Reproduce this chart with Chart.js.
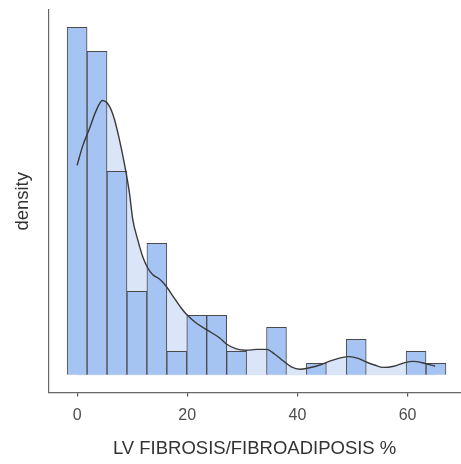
<!DOCTYPE html>
<html>
<head>
<meta charset="utf-8">
<script src="https://cdn.jsdelivr.net/npm/chart.js@4/dist/chart.umd.min.js"></script>
<style>
  html, body { margin: 0; padding: 0; background: #fff; }
  #wrap { width: 461px; height: 464px; }
</style>
</head>
<body>
<div id="wrap"><canvas id="hist"></canvas></div>
<script>
// histogram bins (centres, %), counts per bin
const binWidth = 3.62;
const binCounts = [29, 27, 17, 7, 11, 2, 5, 5, 2, 0, 4, 0, 1, 0, 3, 0, 0, 2, 1];
const binCentres = binCounts.map((_, i) => +(i * binWidth).toFixed(2));

// kernel density, scaled to counts
const densX = [0, 1.0, 2.2, 3.4, 4.6, 5.9, 6.8, 7.7, 8.6, 9.5, 10.1, 11.0, 11.9, 12.8, 13.7, 15.0, 16.2, 17.4, 18.9, 19.8, 21.5, 23.5, 25.9, 27.1, 28.9, 30.7, 32.5, 34.4, 35.9, 37.4, 38.9, 40.4, 42.2, 44.1, 46.0, 47.8, 49.5, 51.0, 52.5, 54.0, 55.6, 57.5, 59.5, 61.0, 63.0, 65.0];
const densY = [17.5, 19.1, 20.5, 22.0, 22.9, 22.4, 21.3, 19.6, 17.6, 15.2, 13.0, 11.3, 9.9, 8.96, 8.4, 8.0, 7.4, 6.6, 5.6, 5.1, 4.4, 3.8, 3.1, 2.6, 2.2, 2.08, 2.15, 2.15, 1.75, 1.2, 0.7, 0.5, 0.62, 0.85, 1.2, 1.45, 1.55, 1.4, 1.1, 0.85, 0.65, 0.75, 1.05, 1.15, 1.0, 0.75];

const xTicks = [0, 20, 40, 60];

const font = "'Liberation Sans', Arial, sans-serif";

new Chart(document.getElementById("hist"), {
  data: {
    datasets: [
      {
        type: "line",
        data: densX.map((x, i) => ({ x, y: densY[i] })),
        borderColor: "#3a3a3a",
        borderWidth: 1.4,
        backgroundColor: "#dae5f7",
        fill: "origin",
        pointRadius: 0,
        tension: 0.4,
        cubicInterpolationMode: "monotone",
        order: 0
      },
      {
        type: "bar",
        data: binCentres.map((x, i) => ({ x, y: binCounts[i] })),
        backgroundColor: "#a5c3f3",
        borderColor: "#4a4a4a",
        borderWidth: 1,
        barPercentage: 1,
        categoryPercentage: 1,
        order: 1
      }
    ]
  },
  options: {
    responsive: true,
    maintainAspectRatio: false,
    animation: false,
    layout: { padding: { left: 4, right: 0, top: 10, bottom: 0 } },
    plugins: {
      legend: { display: false },
      tooltip: { enabled: false },
      filler: { drawTime: "beforeDatasetsDraw" }
    },
    scales: {
      x: {
        type: "linear",
        offset: false,
        min: -5.25,
        max: 69.7,
        afterBuildTicks: s => { s.ticks = xTicks.map(v => ({ value: v })); },
        grid: { offset: false, drawOnChartArea: false, drawTicks: true, tickLength: 4, color: "#555", lineWidth: 1.2 },
        border: { display: true, color: "#666", width: 1.2 },
        ticks: { color: "#4d4d4d", font: { family: font, size: 16 }, padding: 9, maxRotation: 0 },
        title: {
          display: true,
          text: "LV FIBROSIS/FIBROADIPOSIS %",
          color: "#333",
          font: { family: font, size: 18.5 },
          padding: { top: 4, bottom: 4 }
        }
      },
      y: {
        min: -1.45,
        max: 30.45,
        grid: { drawOnChartArea: false, drawTicks: false },
        border: { display: true, color: "#666", width: 1.2 },
        ticks: { display: false },
        title: {
          display: true,
          text: "density",
          color: "#333",
          font: { family: font, size: 18.5 },
          padding: { top: 8, bottom: 14 }
        }
      }
    }
  }
});
</script>
</body>
</html>
